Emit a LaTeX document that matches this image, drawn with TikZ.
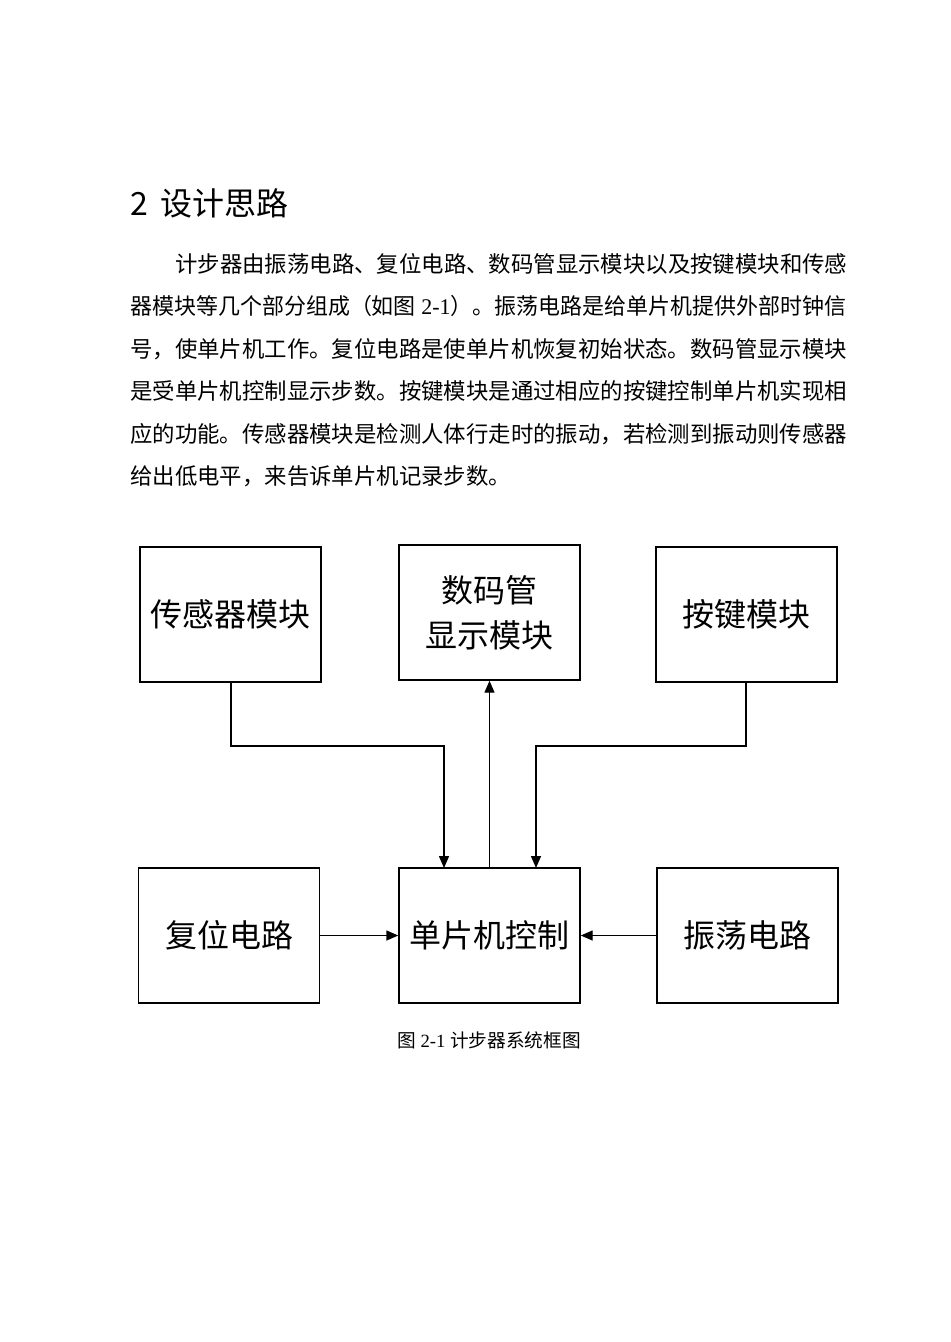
\documentclass[tikz,border=0pt]{standalone}
\usepackage{fontspec}
\setmainfont{Liberation Serif}
\newfontfamily\cjk{Noto Sans CJK SC}
\usetikzlibrary{arrows.meta}
\begin{document}
\begin{tikzpicture}[x=0.75pt,y=-0.75pt,
  blk/.style={draw, line width=1.1pt, minimum width=135.75pt, minimum height=101.25pt,
    inner sep=0pt, align=center, font=\cjk\fontsize{24}{33.75}\selectfont},
  arr/.style={line width=1.1pt, -{Triangle[length=9pt,width=7.5pt]}},
  bodyline/.style={anchor=west, inner sep=0pt, font=\cjk\fontsize{16.8}{20}\selectfont}]
\useasboundingbox[fill=white] (0,0) rectangle (950,1342);
% heading
\node[anchor=west, inner sep=0pt, font=\cjk\fontsize{24}{28}\selectfont] (head) at (130,203) {2\hspace{9pt}设计思路};
% body
\node[bodyline] (l1) at (175,264) {计步器由振荡电路、复位电路、数码管显示模块以及按键模块和传感};
\node[bodyline] (l2) at (130,306) {\resizebox{537pt}{\height}{器模块等几个部分组成（如图{\rmfamily\ 2-1}）。振荡电路是给单片机提供外部时钟信}};
\node[bodyline] (l3) at (130,349) {号，使单片机工作。复位电路是使单片机恢复初始状态。数码管显示模块};
\node[bodyline] (l4) at (130,391) {是受单片机控制显示步数。按键模块是通过相应的按键控制单片机实现相};
\node[bodyline] (l5) at (130,434) {应的功能。传感器模块是检测人体行走时的振动，若检测到振动则传感器};
\node[bodyline] (l6) at (130,476) {给出低电平，来告诉单片机记录步数。};
% blocks
\node[blk] (sensor) at (230.5,614.5) {传感器模块};
\node[blk] (disp) at (489.5,612.5) {数码管\\显示模块};
\node[blk] (key) at (746.5,614.5) {按键模块};
\node[blk] (reset) at (229,935.5) {复位电路};
\node[blk] (mcu) at (489.5,935.5) {单片机控制};
\node[blk] (osc) at (747.5,935.5) {振荡电路};
% connectors
\coordinate (j1) at (231,746);
\coordinate (mcuL) at (444,868);
\coordinate (j2) at (746,746);
\coordinate (mcuR) at (536,868);
\draw[arr] (sensor.south -| j1) -- (j1) -| (mcuL);
\draw[arr] (key.south -| j2) -- (j2) -| (mcuR);
\draw[arr] (mcu.north) -- (disp.south);
\draw[arr] (reset.east) -- (mcu.west);
\draw[arr] (osc.west) -- (mcu.west -| mcu.east);
% caption
\node[inner sep=0pt, font=\cjk\fontsize{14}{17}\selectfont] (cap) at (489,1040) {图{\rmfamily\ 2-1 }计步器系统框图};
\end{tikzpicture}
\end{document}
